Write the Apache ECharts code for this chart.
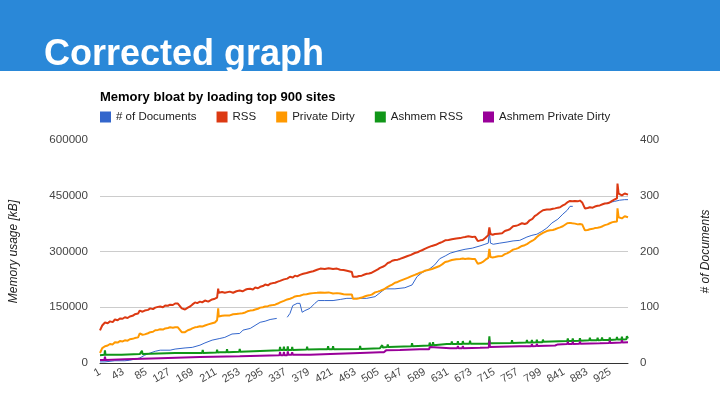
<!DOCTYPE html>
<html><head><meta charset="utf-8">
<script src="https://cdn.jsdelivr.net/npm/echarts@6/dist/echarts.min.js"></script>
<style>html,body{margin:0;padding:0;background:#fff}#c{width:720px;height:405px}</style>
</head><body><div id="c"></div>
<script>
// site rank, value pairs
const seriesNames = ['# of Documents', 'RSS', 'Private Dirty', 'Ashmem RSS', 'Ashmem Private Dirty'];
const leftTicks = [0, 150000, 300000, 450000, 600000];
const rightTicks = [0, 100, 200, 300, 400];
const docs = [[1,2],[10,2],[28,4],[46,4],[55,5],[64,7],[73,9],[82,14],[92,18],[101,21],[110,23],[128,23],[137,25],[155,27],[168,28],[182,32],[191,36],[204,41],[218,44],[227,46],[240,52],[254,53],[260,59],[273,62],[291,73],[300,75],[309,78],[321,80],[323,null],[338,null],[340,82],[345,89],[350,103],[358,107],[363,107],[367,91],[372,94],[381,98],[390,107],[396,112],[408,112],[423,112],[436,114],[448,116],[463,116],[484,116],[499,119],[508,126],[517,133],[535,133],[553,135],[566,140],[575,155],[584,162],[598,169],[607,176],[616,187],[626,192],[635,197],[649,201],[662,204],[675,206],[689,210],[698,213],[704,215],[706,236],[708,215],[713,213],[725,215],[738,217],[749,219],[761,220],[774,226],[783,229],[792,231],[801,236],[810,242],[819,251],[830,258],[839,267],[847,274],[852,281],[857,281],[860,null],[910,null],[915,286],[924,288],[933,290],[942,292],[951,293],[957,293]];
const rss = [[1,88000],[5,101000],[10,109000],[15,107000],[19,112000],[24,110000],[28,117000],[33,115000],[37,120000],[42,119000],[46,123000],[51,121000],[55,125000],[60,127000],[64,131000],[70,133000],[73,141000],[78,138000],[82,141000],[88,143000],[92,147000],[97,145000],[101,149000],[106,151000],[110,152000],[115,150000],[119,155000],[124,154000],[128,157000],[133,156000],[137,160000],[142,160000],[149,147000],[155,144000],[160,149000],[164,152000],[168,157000],[173,163000],[177,161000],[182,165000],[186,163000],[191,168000],[197,165000],[204,171000],[209,173000],[213,176000],[215,200000],[216,189000],[222,191000],[227,189000],[236,192000],[242,189000],[248,193000],[254,195000],[259,193000],[264,197000],[268,199000],[273,200000],[278,198000],[282,203000],[287,201000],[291,205000],[296,207000],[300,211000],[305,209000],[309,213000],[314,215000],[318,216000],[323,219000],[327,221000],[334,225000],[340,227000],[345,232000],[350,230000],[354,235000],[358,233000],[363,237000],[369,240000],[375,242000],[381,245000],[387,247000],[394,251000],[400,254000],[408,253000],[415,255000],[423,253000],[430,254000],[436,251000],[442,250000],[448,248000],[457,245000],[459,232000],[466,232000],[470,234000],[475,235000],[480,238000],[484,240000],[488,241000],[493,243000],[499,248000],[504,252000],[508,256000],[513,259000],[517,262000],[522,269000],[526,271000],[530,275000],[535,277000],[540,278000],[544,280000],[551,284000],[558,288000],[564,291000],[571,296000],[576,298000],[580,301000],[585,304000],[589,307000],[595,311000],[602,315000],[609,318000],[616,323000],[621,326000],[626,330000],[632,331000],[638,333000],[646,335000],[653,336000],[658,338000],[662,339000],[668,341000],[675,339000],[680,340000],[685,328000],[690,330000],[694,331000],[699,337000],[704,344000],[706,365000],[708,347000],[712,345000],[716,347000],[722,348000],[729,349000],[734,355000],[738,357000],[743,360000],[749,368000],[754,369000],[758,371000],[765,376000],[770,374000],[774,376000],[779,384000],[784,388000],[788,395000],[792,399000],[797,405000],[803,411000],[810,413000],[816,413000],[821,415000],[825,416000],[830,418000],[834,419000],[839,424000],[843,427000],[847,432000],[852,436000],[856,435000],[861,436000],[866,435000],[870,437000],[874,432000],[879,416000],[884,417000],[888,419000],[893,418000],[897,421000],[902,423000],[906,424000],[911,427000],[915,429000],[920,430000],[924,432000],[929,437000],[933,440000],[937,443000],[938,483000],[940,456000],[942,456000],[946,451000],[951,456000],[954,454000],[957,453000]];
const privDirty = [[1,27000],[5,40000],[10,45000],[15,47000],[19,51000],[24,50000],[28,56000],[33,55000],[37,59000],[42,58000],[46,61000],[51,60000],[55,64000],[60,65000],[64,67000],[70,69000],[73,80000],[78,76000],[82,77000],[88,80000],[92,83000],[97,84000],[101,88000],[106,89000],[110,91000],[115,90000],[119,93000],[124,94000],[128,96000],[133,95000],[137,96000],[142,96000],[149,83000],[155,83000],[160,88000],[164,90000],[168,93000],[173,96000],[177,97000],[182,99000],[186,98000],[191,101000],[197,104000],[204,107000],[209,109000],[213,115000],[215,147000],[216,125000],[222,127000],[227,128000],[236,128000],[242,131000],[248,132000],[254,133000],[259,134000],[264,136000],[268,139000],[273,141000],[278,142000],[282,144000],[287,146000],[291,149000],[296,150000],[300,152000],[305,153000],[309,155000],[314,156000],[318,157000],[323,160000],[327,163000],[334,167000],[340,171000],[345,173000],[350,176000],[354,179000],[358,180000],[363,181000],[369,184000],[375,185000],[381,187000],[387,188000],[394,189000],[400,190000],[408,189000],[415,190000],[423,187000],[430,188000],[436,187000],[442,185000],[448,184000],[457,184000],[459,173000],[466,173000],[470,174000],[475,176000],[480,179000],[484,181000],[488,182000],[493,184000],[499,190000],[504,192000],[508,194000],[513,197000],[517,200000],[522,205000],[526,208000],[530,211000],[535,216000],[540,218000],[544,221000],[551,225000],[558,229000],[564,233000],[571,237000],[576,240000],[580,243000],[585,245000],[589,248000],[595,250000],[602,253000],[609,257000],[616,261000],[621,266000],[626,272000],[632,274000],[638,277000],[646,279000],[653,280000],[658,281000],[662,280000],[668,281000],[675,280000],[680,280000],[685,267000],[690,269000],[694,272000],[699,278000],[704,283000],[706,307000],[708,285000],[712,284000],[716,285000],[722,287000],[729,288000],[734,293000],[738,295000],[743,299000],[749,305000],[754,307000],[758,309000],[765,315000],[770,317000],[774,320000],[779,325000],[784,329000],[788,333000],[792,339000],[797,345000],[803,350000],[810,355000],[816,357000],[821,358000],[825,360000],[830,363000],[834,365000],[839,368000],[843,372000],[847,376000],[852,377000],[856,376000],[861,375000],[866,373000],[870,374000],[874,373000],[879,357000],[884,358000],[888,360000],[893,361000],[897,363000],[902,364000],[906,365000],[911,368000],[915,371000],[920,373000],[924,376000],[929,379000],[933,380000],[937,381000],[938,416000],[940,392000],[942,392000],[946,389000],[951,395000],[954,393000],[957,392000]];
const ashmemRss = [[1,21000],[9,22000],[10,34000],[11,22000],[40,22000],[73,24000],[76,24000],[77,33000],[78,24000],[137,27000],[186,27000],[187,35000],[188,27000],[212,28000],[213,36000],[214,28000],[218,29000],[230,29000],[231,37000],[232,29000],[253,30000],[254,38000],[255,30000],[291,32000],[326,34000],[327,43000],[328,35000],[333,35000],[334,44000],[335,35000],[340,35000],[341,45000],[342,35000],[348,35000],[349,43000],[350,35000],[375,36000],[376,44000],[377,36000],[399,37000],[413,37000],[414,45000],[415,37000],[422,37000],[423,45000],[424,37000],[471,38000],[472,46000],[473,38000],[508,40000],[511,41000],[512,48000],[513,42000],[521,43000],[522,50000],[523,43000],[565,45000],[566,53000],[567,45000],[597,47000],[598,55000],[599,48000],[603,48000],[604,56000],[605,48000],[629,51000],[637,51000],[638,58000],[639,51000],[648,51000],[649,59000],[650,51000],[657,51000],[658,59000],[659,52000],[670,52000],[671,60000],[672,52000],[705,52000],[706,72000],[707,53000],[746,54000],[747,61000],[748,54000],[773,55000],[774,62000],[775,55000],[782,55000],[783,62000],[784,55000],[791,56000],[792,63000],[793,56000],[802,56000],[803,63000],[804,57000],[847,59000],[848,66000],[849,59000],[856,59000],[857,66000],[858,59000],[869,60000],[870,67000],[871,60000],[887,61000],[888,68000],[889,61000],[901,61000],[902,68000],[903,61000],[909,62000],[910,69000],[911,62000],[923,62000],[924,69000],[925,62000],[936,63000],[937,70000],[938,63000],[945,63000],[946,71000],[947,63000],[954,64000],[955,72000],[957,66000]];
const ashmemPd = [[1,8000],[9,8000],[10,17000],[11,8000],[46,10000],[110,13000],[182,16000],[254,18000],[273,19000],[326,21000],[327,30000],[328,21000],[333,21000],[334,30000],[335,21000],[340,21000],[341,31000],[342,22000],[348,22000],[349,29000],[350,22000],[381,22000],[418,24000],[472,27000],[508,29000],[515,29000],[519,34000],[544,35000],[580,37000],[597,37000],[598,43000],[599,38000],[635,40000],[648,40000],[649,46000],[650,40000],[657,40000],[658,46000],[659,40000],[689,41000],[705,42000],[706,60000],[707,43000],[761,45000],[782,45000],[783,51000],[784,45000],[791,46000],[792,52000],[793,46000],[825,47000],[830,50000],[847,51000],[848,57000],[849,51000],[856,51000],[857,57000],[858,51000],[869,52000],[870,58000],[871,52000],[906,53000],[923,54000],[924,60000],[925,54000],[945,55000],[946,61000],[947,55000],[957,56000]];

const colors = ['#3366cc', '#dc3912', '#ff9900', '#109618', '#990099'];
const FONT = '"Liberation Sans", Arial, sans-serif';
const toXY = arr => arr.map(p => [p[0] - 1, p[1]]);
const allData = [docs, rss, privDirty, ashmemRss, ashmemPd];
const widths = [1, 2, 2, 2, 2];

const chart = echarts.init(document.getElementById('c'), null, {renderer: 'canvas'});
chart.setOption({
  animation: false,
  color: colors,
  textStyle: {fontFamily: FONT},
  title: {
    text: 'Memory bloat by loading top 900 sites',
    left: 95, top: 86,
    textStyle: {fontFamily: FONT, fontSize: 13, fontWeight: 'bold', color: '#000'}
  },
  legend: {
    left: 95, top: 106,
    icon: 'rect', itemWidth: 11, itemHeight: 11, itemGap: 20,
    textStyle: {fontFamily: FONT, fontSize: 11.5, color: '#222'},
    data: seriesNames
  },
  graphic: [
    {type: 'rect', shape: {x: 0, y: 0, width: 720, height: 71}, style: {fill: '#2a88d8'}},
    {type: 'text', x: 44, y: 55, style: {text: 'Corrected graph', font: 'bold 36px "Liberation Sans", Arial, sans-serif', fill: '#ffffff', verticalAlign: 'middle'}},
    {type: 'rect', shape: {x: 0, y: 71, width: 720, height: 14}, style: {fill: '#ffffff'}}
  ],
  grid: {left: 100, right: 92, top: 140, bottom: 42},
  xAxis: {
    type: 'value', min: 0, max: 956, interval: 42,
    axisLine: {show: true, lineStyle: {color: '#333', width: 1}},
    axisTick: {show: false},
    splitLine: {show: false},
    axisLabel: {
      rotate: 30, fontFamily: FONT, fontSize: 11, color: '#444', margin: 8, showMaxLabel: false,
      formatter: v => (v % 42 === 0 ? String(v + 1) : '')
    }
  },
  yAxis: [
    {
      type: 'value', min: leftTicks[0], max: leftTicks[leftTicks.length - 1], interval: 150000,
      name: 'Memory usage [kB]', nameLocation: 'middle', nameGap: 80, nameRotate: 90,
      nameTextStyle: {fontFamily: FONT, fontSize: 12, fontStyle: 'italic', color: '#222'},
      axisLine: {show: false}, axisTick: {show: false},
      axisLabel: {fontFamily: FONT, fontSize: 11.6, color: '#444', margin: 12, formatter: v => String(v)},
      splitLine: {show: true, showMaxLine: false, lineStyle: {color: '#cccccc', width: 1}}
    },
    {
      type: 'value', min: rightTicks[0], max: rightTicks[rightTicks.length - 1], interval: 100,
      name: '# of Documents', nameLocation: 'middle', nameGap: 72, nameRotate: 90,
      nameTextStyle: {fontFamily: FONT, fontSize: 12, fontStyle: 'italic', color: '#222'},
      axisLine: {show: false}, axisTick: {show: false},
      axisLabel: {fontFamily: FONT, fontSize: 11.5, color: '#444', margin: 12, formatter: v => String(v)},
      splitLine: {show: false}
    }
  ],
  series: seriesNames.map((name, i) => ({
    name, type: 'line', yAxisIndex: i === 0 ? 1 : 0,
    data: toXY(allData[i]), showSymbol: false, symbol: 'none',
    lineStyle: {width: widths[i], color: colors[i]},
    connectNulls: false
  }))
});
</script></body></html>
